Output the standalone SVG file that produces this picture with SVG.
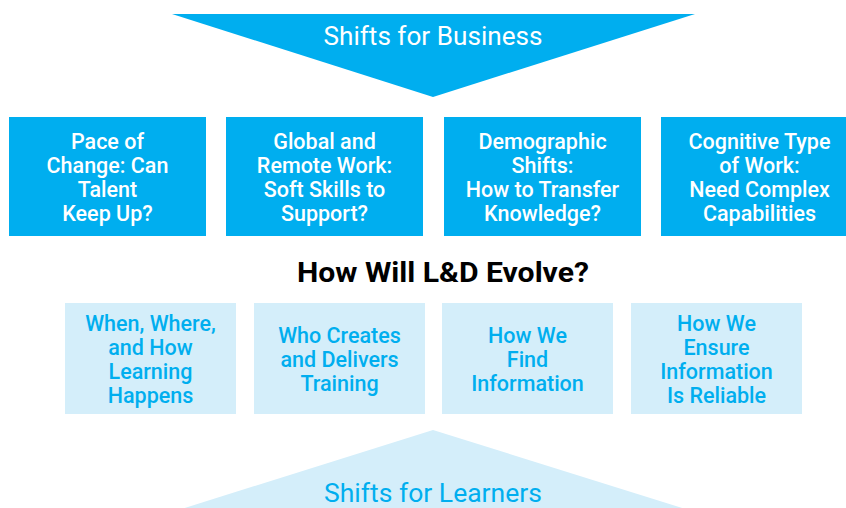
<svg xmlns="http://www.w3.org/2000/svg" width="846" height="508" viewBox="0 0 846 508">
<style>
text{font-family:Roboto,"Liberation Sans",sans-serif;text-anchor:middle}
.dark{fill:#00AEEF}
.light{fill:#D4EEFA}
.wt{fill:#FFFFFF;font-size:21.5px;font-weight:500}
.bt{fill:#00AEEF;font-size:21.5px;font-weight:500}
.big{font-size:25px;font-weight:400}
</style>
<rect width="846" height="508" fill="#FFFFFF"/>
<g id="shifts-business">
<polygon class="dark" points="172,14 695,14 433,97"/>
<text class="big" x="433" y="45" fill="#FFFFFF" textLength="219" lengthAdjust="spacingAndGlyphs">Shifts for Business</text>
</g>
<g id="pace">
<rect class="dark" x="9" y="117" width="197" height="119"/>
<text class="wt" x="107.5" y="149">Pace of</text>
<text class="wt" x="107.5" y="173">Change: Can</text>
<text class="wt" x="107.5" y="197">Talent</text>
<text class="wt" x="107.5" y="221">Keep Up?</text>
</g>
<g id="global">
<rect class="dark" x="226" y="117" width="197" height="119"/>
<text class="wt" x="324.5" y="149">Global and</text>
<text class="wt" x="324.5" y="173">Remote Work:</text>
<text class="wt" x="324.5" y="197">Soft Skills to</text>
<text class="wt" x="324.5" y="221">Support?</text>
</g>
<g id="demographic">
<rect class="dark" x="444" y="117" width="197" height="119"/>
<text class="wt" x="542.5" y="149">Demographic</text>
<text class="wt" x="542.5" y="173">Shifts:</text>
<text class="wt" x="542.5" y="197">How to Transfer</text>
<text class="wt" x="542.5" y="221">Knowledge?</text>
</g>
<g id="cognitive">
<rect class="dark" x="661" y="117" width="197" height="119"/>
<text class="wt" x="759.5" y="149">Cognitive Type</text>
<text class="wt" x="759.5" y="173">of Work:</text>
<text class="wt" x="759.5" y="197">Need Complex</text>
<text class="wt" x="759.5" y="221">Capabilities</text>
</g>
<g id="title">
<text x="443" y="282" fill="#000000" font-size="27.5" font-weight="700" textLength="292" lengthAdjust="spacingAndGlyphs">How Will L&amp;D Evolve?</text>
</g>
<g id="when">
<rect class="light" x="65" y="303" width="171" height="111"/>
<text class="bt" x="150.5" y="331">When, Where,</text>
<text class="bt" x="150.5" y="355">and How</text>
<text class="bt" x="150.5" y="379">Learning</text>
<text class="bt" x="150.5" y="403">Happens</text>
</g>
<g id="who">
<rect class="light" x="254" y="303" width="171" height="111"/>
<text class="bt" x="339.5" y="343">Who Creates</text>
<text class="bt" x="339.5" y="367">and Delivers</text>
<text class="bt" x="339.5" y="391">Training</text>
</g>
<g id="find">
<rect class="light" x="442" y="303" width="171" height="111"/>
<text class="bt" x="527.5" y="343">How We</text>
<text class="bt" x="527.5" y="367">Find</text>
<text class="bt" x="527.5" y="391">Information</text>
</g>
<g id="ensure">
<rect class="light" x="631" y="303" width="171" height="111"/>
<text class="bt" x="716.5" y="331">How We</text>
<text class="bt" x="716.5" y="355">Ensure</text>
<text class="bt" x="716.5" y="379">Information</text>
<text class="bt" x="716.5" y="403">Is Reliable</text>
</g>
<g id="shifts-learners">
<polygon class="light" points="172,512 695,512 433,430"/>
<text class="big" x="433" y="502" fill="#00AEEF" textLength="218" lengthAdjust="spacingAndGlyphs">Shifts for Learners</text>
</g>
<g id="connectors"/>
</svg>
